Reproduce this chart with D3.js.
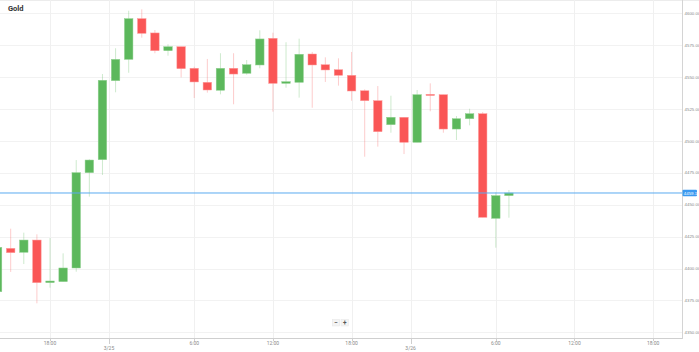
<!DOCTYPE html>
<html><head><meta charset="utf-8">
<script src="https://cdn.jsdelivr.net/npm/d3@7"></script>
<style>
html,body{margin:0;padding:0;background:#fff;}
svg{display:block;font-family:Roboto,"Noto Sans",sans-serif;}
.ylab{font-family:"Liberation Sans Narrow","Liberation Sans",sans-serif;}
</style></head>
<body><svg id="c" width="699" height="352"></svg>
<script>
const title = "Gold";
const opens  = [4381.8,4415.8,4412.7,4422.3,4388.9,4389.7,4400.4,4475.1,4485.3,4547.2,4563.9,4595.8,4584.6,4570.7,4573.8,4556.9,4545.9,4539.7,4556.9,4553.0,4559.5,4580.4,4545.1,4545.9,4568.1,4559.7,4555.8,4551.4,4539.3,4531.5,4512.7,4518.5,4498.9,4536.5,4536.2,4509.3,4517.4,4521.3,4439.3,4457.1];
const highs  = [4420.0,4431.2,4428.1,4426.8,4423.9,4411.9,4485.0,4485.6,4552.4,4572.6,4602.0,4603.1,4586.9,4575.7,4573.8,4558.1,4564.2,4568.7,4568.7,4563.4,4586.7,4584.8,4577.3,4580.1,4569.7,4565.5,4564.7,4569.7,4540.4,4543.0,4535.4,4518.5,4539.9,4545.1,4536.2,4519.5,4525.2,4522.6,4459.7,4461.5];
const lows   = [4376.0,4397.3,4403.5,4372.7,4385.0,4389.7,4397.5,4456.3,4473.3,4538.1,4553.4,4580.9,4568.7,4566.8,4549.8,4533.6,4537.8,4536.5,4528.7,4551.9,4556.9,4522.9,4541.7,4533.9,4526.0,4546.2,4543.3,4531.5,4487.6,4495.5,4506.4,4489.7,4498.9,4523.2,4506.4,4500.7,4512.2,4440.1,4416.3,4439.8];
const closes = [4416.6,4412.4,4422.3,4388.9,4390.2,4400.4,4475.1,4485.0,4547.5,4563.9,4595.8,4584.3,4570.7,4573.8,4556.6,4546.2,4539.9,4556.9,4552.4,4559.7,4579.9,4545.1,4546.4,4567.9,4559.5,4555.6,4551.4,4539.1,4531.5,4507.2,4518.5,4498.9,4536.2,4536.0,4509.3,4517.4,4521.3,4440.1,4457.1,4459.17];
const lastPrice = 4459.17;
const yTicks = [4350,4375,4400,4425,4450,4475,4500,4525,4550,4575,4600];
const xTickIndex = [4,15,21,27,38,44,50];
const xTickLabels = ["18:00","6:00","12:00","18:00","6:00","12:00","18:00"];
const dateTickIndex = [8.5,31.5];
const dateTickLabels = ["3/25","3/26"];

const svg = d3.select("#c");
const W = 699, H = 352;
const plotR = 682, plotB = 338;
const x = d3.scaleLinear().domain([0.186, 52.2]).range([0, plotR]);
const y = d3.scaleLinear().domain([4350, 4600]).range([332.3, 13.3]);

svg.append("line").attr("x1",0).attr("x2",W).attr("y1",0.5).attr("y2",0.5).attr("stroke","#ececec");

svg.append("g").selectAll("line").data(yTicks).join("line")
  .attr("x1",0).attr("x2",plotR).attr("y1",d=>Math.round(y(d))+0.5).attr("y2",d=>Math.round(y(d))+0.5)
  .attr("stroke","#f2f2f2");
svg.append("g").selectAll("line").data(xTickIndex.concat(dateTickIndex)).join("line")
  .attr("x1",d=>Math.round(x(d))+0.5).attr("x2",d=>Math.round(x(d))+0.5).attr("y1",0).attr("y2",plotB)
  .attr("stroke","#f0f0f0");

const idx = d3.range(opens.length);
const up = i => closes[i] >= opens[i];
const green = "#5cb85c", red = "#fa5656";
const bw = 8.5;
const g = svg.append("g");
g.selectAll("line.w").data(idx).join("line").attr("class","w")
  .attr("x1",i=>x(i)).attr("x2",i=>x(i)).attr("y1",i=>y(highs[i])).attr("y2",i=>y(lows[i]))
  .attr("stroke",i=>up(i)?green:red).attr("stroke-opacity",0.3).attr("stroke-width",1);
g.selectAll("rect").data(idx).join("rect")
  .attr("x",i=>x(i)-bw/2).attr("width",bw)
  .attr("y",i=>y(Math.max(opens[i],closes[i])))
  .attr("height",i=>Math.max(1.2, Math.abs(y(opens[i])-y(closes[i]))))
  .attr("fill",i=>up(i)?green:red)
  .attr("stroke",i=>up(i)?"#8fd08f":"#fd9a9a").attr("stroke-width",0.5);

svg.append("line").attr("x1",0).attr("x2",plotR).attr("y1",y(lastPrice)).attr("y2",y(lastPrice))
  .attr("stroke","#5aaaf0").attr("stroke-width",1);

svg.append("line").attr("x1",0).attr("x2",plotR+1).attr("y1",plotB+0.5).attr("y2",plotB+0.5).attr("stroke","#cfcfcf");
svg.append("line").attr("x1",plotR+0.5).attr("x2",plotR+0.5).attr("y1",0).attr("y2",plotB+1).attr("stroke","#d4d4d4");

svg.append("g").selectAll("text").data(yTicks).join("text").attr("class","ylab")
  .attr("x",684.5).attr("y",d=>y(d)+1.6).attr("font-size",4.4).attr("fill","#8a8a8a")
  .text(d=>d3.format(".2f")(d));

const ty = y(lastPrice);
svg.append("rect").attr("x",682.5).attr("y",ty-3.3).attr("width",14.5).attr("height",6.6).attr("rx",1)
  .attr("fill","#3b99f0");
svg.append("text").attr("class","ylab").attr("x",683.8).attr("y",ty+1.6).attr("font-size",4.4).attr("fill","#fff")
  .text(d3.format(".2f")(lastPrice));

svg.append("g").selectAll("line").data(xTickIndex).join("line")
  .attr("x1",d=>Math.round(x(d))+0.5).attr("x2",d=>Math.round(x(d))+0.5).attr("y1",plotB).attr("y2",plotB+3)
  .attr("stroke","#cfcfcf");
svg.append("g").selectAll("line").data(dateTickIndex).join("line")
  .attr("x1",d=>Math.round(x(d))+0.5).attr("x2",d=>Math.round(x(d))+0.5).attr("y1",plotB).attr("y2",plotB+6)
  .attr("stroke","#cfcfcf");
svg.append("g").selectAll("text").data(xTickIndex).join("text")
  .attr("x",d=>x(d)).attr("y",345).attr("text-anchor","middle").attr("font-size",5).attr("fill","#8a8a8a")
  .text((d,i)=>xTickLabels[i]);
svg.append("g").selectAll("text").data(dateTickIndex).join("text")
  .attr("x",d=>x(d)).attr("y",350).attr("text-anchor","middle").attr("font-size",5).attr("fill","#8a8a8a")
  .text((d,i)=>dateTickLabels[i]);

svg.append("text").attr("x",8).attr("y",11).attr("font-size",7.5).attr("font-weight","bold").attr("fill","#333").text(title);

const btns = ["−","+"];
svg.append("g").selectAll("rect").data(btns).join("rect")
  .attr("x",(d,i)=>332.3+i*8.7).attr("y",319.5).attr("width",7.4).attr("height",6.5)
  .attr("fill","#f4f4f4").attr("stroke","#e6e6e6").attr("stroke-width",0.5);
svg.append("g").selectAll("text").data(btns).join("text")
  .attr("x",(d,i)=>336+i*8.7).attr("y",324.8).attr("text-anchor","middle").attr("font-size",6.5).attr("font-weight","bold").attr("fill","#555")
  .text(d=>d);
</script></body></html>
